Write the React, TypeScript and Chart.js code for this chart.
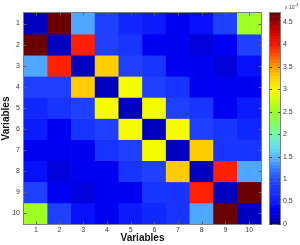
import React, { useEffect, useRef } from 'react';
import { Chart, registerables } from 'chart.js';

Chart.register(...registerables);

// ---- data (values in units of 1e-4) ----
const variables = ['1', '2', '3', '4', '5', '6', '7', '8', '9', '10'];
const row1 = [0.12, 4.7, 1.42, 0.9, 0.6, 0.52, 0.33, 0.45, 0.9, 2.55];
const row2 = [4.7, 0.12, 3.95, 0.9, 0.75, 0.33, 0.33, 0.2, 0.33, 0.9];
const row3 = [1.42, 3.95, 0.12, 3.3, 0.9, 0.75, 0.33, 0.33, 0.2, 0.45];
const row4 = [0.9, 0.9, 3.3, 0.12, 2.97, 0.9, 0.75, 0.33, 0.33, 0.33];
const row5 = [0.6, 0.75, 0.9, 2.97, 0.12, 2.97, 0.9, 0.75, 0.33, 0.52];
const row6 = [0.52, 0.33, 0.75, 0.9, 2.97, 0.12, 2.97, 0.9, 0.75, 0.6];
const row7 = [0.33, 0.33, 0.33, 0.75, 0.9, 2.97, 0.12, 3.3, 0.75, 0.75];
const row8 = [0.45, 0.2, 0.33, 0.33, 0.75, 0.9, 3.3, 0.12, 3.95, 1.42];
const row9 = [0.9, 0.33, 0.2, 0.33, 0.33, 0.75, 0.75, 3.95, 0.12, 4.7];
const row10 = [2.55, 0.9, 0.45, 0.33, 0.52, 0.6, 0.75, 1.42, 4.7, 0.12];
const matrix = [row1, row2, row3, row4, row5, row6, row7, row8, row9, row10];

const cbTicks = [0, 0.5, 1, 1.5, 2, 2.5, 3, 3.5, 4, 4.5];
const cbMin = 0;
const cbMax = 4.7;
const cbBase = 'x 10';
const cbExponent = '-4';
const axisTitle = 'Variables';

// ---- colormap (style) ----
const cmapStops: [number, string][] = [
  [0.0, '#000080'],
  [0.15, '#0000d0'],
  [0.35, '#0000f6'],
  [0.6, '#1028ff'],
  [0.9, '#2040ff'],
  [1.2, '#3070ff'],
  [1.45, '#52b0ff'],
  [1.7, '#60dcf0'],
  [2.0, '#70f8b0'],
  [2.25, '#84ff60'],
  [2.55, '#a0ff20'],
  [2.95, '#f4ff00'],
  [3.3, '#ffcc00'],
  [3.6, '#ff8000'],
  [3.95, '#ff2000'],
  [4.3, '#d00000'],
  [4.7, '#6b0000'],
];

function hexToRgb(h: string): number[] {
  return [1, 3, 5].map((i) => parseInt(h.slice(i, i + 2), 16));
}

function colorAt(v: number): string {
  if (v <= cmapStops[0][0]) return cmapStops[0][1];
  for (let i = 1; i < cmapStops.length; i++) {
    const [v1, c1] = cmapStops[i];
    if (v <= v1) {
      const [v0, c0] = cmapStops[i - 1];
      const t = (v - v0) / (v1 - v0);
      const a = hexToRgb(c0);
      const b = hexToRgb(c1);
      const c = a.map((x, k) => Math.round(x + (b[k] - x) * t));
      return `rgb(${c[0]},${c[1]},${c[2]})`;
    }
  }
  return cmapStops[cmapStops.length - 1][1];
}

const FONT = "'Liberation Sans', Arial, sans-serif";
const TICK_COLOR = '#3a3a3a';
const FRAME = '#808080';

const decorPlugin = {
  id: 'decor',
  afterDraw(chart: any) {
    const { ctx, chartArea } = chart;
    const xs = chart.scales.x;
    const ys = chart.scales.y;
    const cb = chart.scales.cb;
    ctx.save();
    // plot frame
    ctx.strokeStyle = FRAME;
    ctx.lineWidth = 1;
    ctx.strokeRect(
      Math.round(chartArea.left) - 0.5,
      Math.round(chartArea.top) - 0.5,
      Math.round(chartArea.right - chartArea.left) + 1,
      Math.round(chartArea.bottom - chartArea.top) + 1
    );
    // inner tick marks
    ctx.strokeStyle = '#606060';
    const tl = 2.5;
    ctx.beginPath();
    variables.forEach((_, i) => {
      const px = Math.round(xs.getPixelForTick(i)) + 0.5;
      ctx.moveTo(px, chartArea.bottom);
      ctx.lineTo(px, chartArea.bottom - tl);
      ctx.moveTo(px, chartArea.top);
      ctx.lineTo(px, chartArea.top + tl);
      const py = Math.round(ys.getPixelForValue(i + 0.5)) + 0.5;
      ctx.moveTo(chartArea.left, py);
      ctx.lineTo(chartArea.left + tl, py);
      ctx.moveTo(chartArea.right, py);
      ctx.lineTo(chartArea.right - tl, py);
    });
    ctx.stroke();

    // colorbar
    const cbL = Math.round(chartArea.right) + 9;
    const cbR = cbL + 10;
    const top = cb.getPixelForValue(cbMax);
    const bot = cb.getPixelForValue(cbMin);
    const nBands = 64;
    for (let k = 0; k < nBands; k++) {
      const v0 = cbMin + ((cbMax - cbMin) * k) / nBands;
      const v1 = cbMin + ((cbMax - cbMin) * (k + 1)) / nBands;
      const y0 = cb.getPixelForValue(v0);
      const y1 = cb.getPixelForValue(v1);
      ctx.fillStyle = colorAt((v0 + v1) / 2);
      ctx.fillRect(cbL, y1, cbR - cbL, y0 - y1 + 0.5);
    }
    ctx.strokeStyle = FRAME;
    ctx.strokeRect(cbL - 0.5, Math.round(top) - 0.5, cbR - cbL + 1, Math.round(bot - top) + 1);
    ctx.strokeStyle = '#404040';
    ctx.beginPath();
    cbTicks.forEach((v) => {
      const py = Math.round(cb.getPixelForValue(v)) + 0.5;
      ctx.moveTo(cbL, py);
      ctx.lineTo(cbL + 2, py);
      ctx.moveTo(cbR, py);
      ctx.lineTo(cbR - 2, py);
    });
    ctx.stroke();

    // exponent label
    ctx.fillStyle = TICK_COLOR;
    ctx.textBaseline = 'alphabetic';
    ctx.textAlign = 'left';
    ctx.font = `5px ${FONT}`;
    const bx = cbR + 5;
    ctx.fillText(cbBase, bx, 9);
    const w = ctx.measureText(cbBase).width;
    ctx.font = `4px ${FONT}`;
    ctx.fillText(cbExponent, bx + w + 0.5, 6);
    ctx.restore();
  },
};

export default function App() {
  const ref = useRef<HTMLCanvasElement | null>(null);

  useEffect(() => {
    document.body.style.margin = '0';
    const canvas = ref.current;
    if (!canvas) return;
    const datasets = matrix.map((row, i) => ({
      label: `Row ${variables[i]}`,
      data: row.map(() => 1),
      backgroundColor: row.map((v) => colorAt(v)),
      borderWidth: 0,
      barPercentage: 1,
      categoryPercentage: 1,
      stack: 'grid',
    }));
    const chart = new Chart(canvas, {
      type: 'bar',
      data: { labels: variables, datasets },
      plugins: [decorPlugin],
      options: {
        responsive: false,
        animation: false,
        devicePixelRatio: 1,
        layout: { padding: { left: 0, right: 0, top: 13, bottom: 0 } },
        plugins: { legend: { display: false }, tooltip: { enabled: false } },
        scales: {
          x: {
            type: 'category',
            stacked: true,
            grid: { display: false, drawTicks: false },
            border: { display: false },
            ticks: { color: TICK_COLOR, font: { size: 7, family: FONT }, padding: 2, maxRotation: 0 },
            title: {
              display: true,
              text: axisTitle,
              color: '#111',
              font: { size: 10, weight: 'bold', family: FONT },
              padding: { top: 0, bottom: 1 },
            },
            afterFit: (s: any) => {
              s.height = 21;
            },
          },
          y: {
            type: 'linear',
            stacked: true,
            reverse: true,
            min: 0,
            max: 10,
            position: 'left',
            grid: { display: false, drawTicks: false },
            border: { display: false },
            afterBuildTicks: (s: any) => {
              s.ticks = variables.map((_, i) => ({ value: i + 0.5 }));
            },
            ticks: {
              color: TICK_COLOR,
              font: { size: 7, family: FONT },
              padding: 4,
              autoSkip: false,
              callback: (v: any) => variables[Math.round(Number(v) - 0.5)],
            },
            title: {
              display: true,
              text: axisTitle,
              color: '#111',
              font: { size: 10, weight: 'bold', family: FONT },
              padding: { top: 0, bottom: 0 },
            },
            afterFit: (s: any) => {
              s.width = 24;
            },
          },
          cb: {
            type: 'linear',
            display: true,
            position: 'right',
            min: cbMin,
            max: cbMax,
            grid: { drawOnChartArea: false, color: 'transparent', drawTicks: true, tickLength: 19 },
            border: { display: false },
            afterBuildTicks: (s: any) => {
              s.ticks = cbTicks.map((v) => ({ value: v }));
            },
            ticks: {
              color: TICK_COLOR,
              font: { size: 7, family: FONT },
              padding: 3,
              autoSkip: false,
              callback: (v: any) => String(v),
            },
            afterFit: (s: any) => {
              s.width = 39;
            },
          },
        },
      } as any,
    });
    return () => chart.destroy();
  }, []);

  return (
    <div style={{ width: 300, height: 245 }}>
      <canvas ref={ref} width={300} height={245} />
    </div>
  );
}
